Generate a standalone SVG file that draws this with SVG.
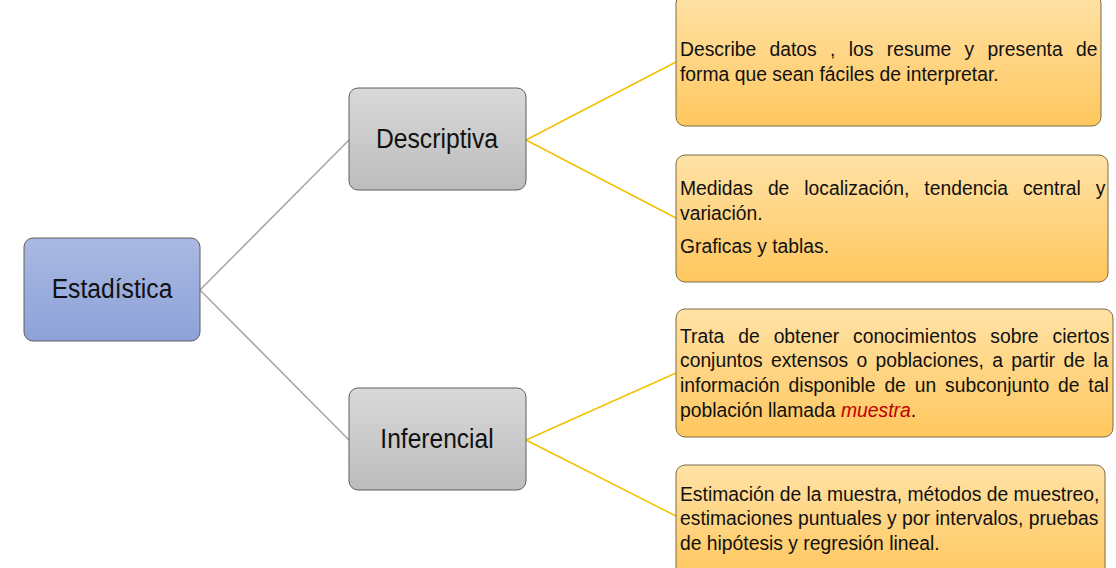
<svg xmlns="http://www.w3.org/2000/svg" width="1116" height="568" viewBox="0 0 1116 568">
<defs>
<linearGradient id="gBlue" x1="0" y1="0" x2="0" y2="1"><stop offset="0" stop-color="#AAB9E2"/><stop offset="1" stop-color="#8DA2D9"/></linearGradient>
<linearGradient id="gGray" x1="0" y1="0" x2="0" y2="1"><stop offset="0" stop-color="#D9D9D9"/><stop offset="1" stop-color="#BCBCBC"/></linearGradient>
<linearGradient id="gOrange" x1="0" y1="0" x2="0" y2="1"><stop offset="0" stop-color="#FFE2A6"/><stop offset="1" stop-color="#FFC75E"/></linearGradient>
</defs>
<style>
.main{font-family:"Liberation Sans",Arial,sans-serif;font-size:27px;fill:#111;text-anchor:middle}
.body{font-family:"Liberation Sans",Arial,sans-serif;font-size:21px;fill:#111}
.box{stroke:#5E5E5E;stroke-width:1}
.obox{fill:url(#gOrange);stroke:#7A6A45;stroke-width:1}
.gl{stroke:#A6A6A6;stroke-width:1.5;fill:none}
.yl{stroke:#F2C200;stroke-width:1.5;fill:none}
.red{fill:#C00000;font-style:italic}
</style>
<rect width="1116" height="568" fill="#FFFFFF"/>
<g id="connectors">
<path class="gl" d="M200,290 L349,140"/>
<path class="gl" d="M200,290 L349,440"/>
<path class="yl" d="M526,140 L676,62"/>
<path class="yl" d="M526,140 L676,218"/>
<path class="yl" d="M526,440 L676,373"/>
<path class="yl" d="M526,440 L676,516"/>
</g>
<g id="estadistica">
<rect class="box" x="24" y="238" width="176" height="103" rx="9" fill="url(#gBlue)"/>
<text class="main" transform="translate(112,298) scale(0.915,1)">Estadística</text>
</g>
<g id="descriptiva">
<rect class="box" x="349" y="88" width="177" height="102" rx="9" fill="url(#gGray)"/>
<text class="main" transform="translate(437,148) scale(0.915,1)">Descriptiva</text>
</g>
<g id="inferencial">
<rect class="box" x="349" y="388" width="177" height="102" rx="9" fill="url(#gGray)"/>
<text class="main" transform="translate(437,448) scale(0.91,1)">Inferencial</text>
</g>
<g id="desc1">
<rect class="obox" x="676" y="-6" width="425" height="132" rx="9"/>
<text class="body" transform="translate(680,56) scale(0.92,1)" word-spacing="8.7">Describe datos , los resume y presenta de</text>
<text class="body" transform="translate(680,81) scale(0.92,1)">forma que sean fáciles de interpretar.</text>
</g>
<g id="desc2">
<rect class="obox" x="676" y="155" width="432" height="127" rx="9"/>
<text class="body" transform="translate(680,195) scale(0.92,1)" word-spacing="10.4">Medidas de localización, tendencia central y</text>
<text class="body" transform="translate(680,220) scale(0.92,1)">variación.</text>
<text class="body" transform="translate(680,253) scale(0.92,1)">Graficas y tablas.</text>
</g>
<g id="inf1">
<rect class="obox" x="676" y="309" width="437" height="128" rx="9"/>
<text class="body" transform="translate(680,343) scale(0.92,1)" word-spacing="9.3">Trata de obtener conocimientos sobre ciertos</text>
<text class="body" transform="translate(680,367) scale(0.92,1)" word-spacing="3.2">conjuntos extensos o poblaciones, a partir de la</text>
<text class="body" transform="translate(680,392) scale(0.92,1)" word-spacing="3.8">información disponible de un subconjunto de tal</text>
<text class="body" transform="translate(680,417) scale(0.92,1)">población llamada <tspan class="red">muestra</tspan>.</text>
</g>
<g id="inf2">
<rect class="obox" x="676" y="465" width="429" height="112" rx="9"/>
<text class="body" transform="translate(680,501) scale(0.92,1)">Estimación de la muestra, métodos de muestreo,</text>
<text class="body" transform="translate(680,525) scale(0.92,1)">estimaciones puntuales y por intervalos, pruebas</text>
<text class="body" transform="translate(680,550) scale(0.92,1)">de hipótesis y regresión lineal.</text>
</g>
</svg>
